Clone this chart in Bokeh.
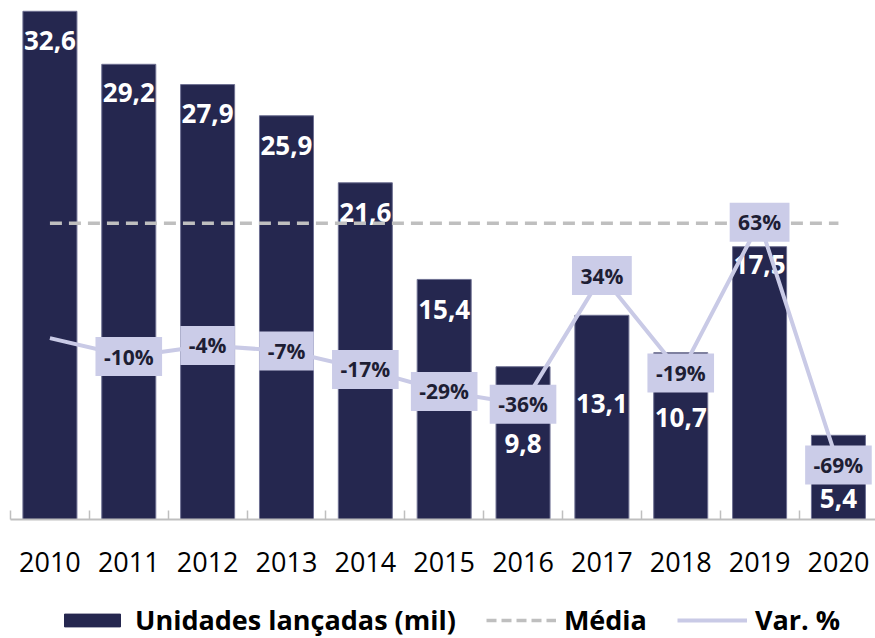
from bokeh.plotting import figure
from bokeh.models import (ColumnDataSource, Range1d, FixedTicker, Legend, LegendItem)
from bokeh.layouts import column
from bokeh.embed import file_html
from bokeh.resources import INLINE
from bokeh.core.properties import value
import numpy as np

# ---- data ----
years = ["2010", "2011", "2012", "2013", "2014", "2015", "2016", "2017", "2018", "2019", "2020"]
unidades = [32.6, 29.2, 27.9, 25.9, 21.6, 15.4, 9.8, 13.1, 10.7, 17.5, 5.4]
unidades_labels = ["32,6", "29,2", "27,9", "25,9", "21,6", "15,4", "9,8", "13,1", "10,7", "17,5", "5,4"]
var_pct = [0, -10, -4, -7, -17, -29, -36, 34, -19, 63, -69]
var_labels = ["", "-10%", "-4%", "-7%", "-17%", "-29%", "-36%", "34%", "-19%", "63%", "-69%"]

# ---- styling / placement ----
NAVY = "#25274F"
LAV = "#C9CAE6"
BOX = "#CBCCE8"
GRAY = "#BFBFBF"
FONT = "Open Sans"
label_offsets = [29, 28, 29, 30, 30, 30, 77, 88, 65, 18, 63]  # px below bar top
CHAR_W = {"-": 6.8, "%": 17.8}
def box_width(s):
    return 18 + sum(CHAR_W.get(c, 12.0) for c in s)

xs = list(range(len(years)))
media = float(np.mean(unidades))

p = figure(width=875, height=600, output_backend="svg", toolbar_location=None,
           x_range=Range1d(-0.5, 10.47), y_range=Range1d(0, 32.78),
           min_border_left=10, min_border_right=0, min_border_top=8, min_border_bottom=81,
           outline_line_color=None)
p.extra_y_ranges = {"var": Range1d(-98.6, 179.2)}
p.yaxis.visible = False
p.grid.visible = False

bar_src = ColumnDataSource(dict(x=xs, top=unidades, lab=unidades_labels, off=label_offsets))
bars = p.vbar(x="x", top="top", width=0.685, source=bar_src, fill_color=NAVY,
              line_color="#6E7092", line_width=1)
p.text(x="x", y="top", text="lab", y_offset="off", source=bar_src,
       text_font=value(FONT), text_font_style="bold", text_font_size="26px",
       text_color="white", text_align="center", text_baseline="middle")

mean_line = p.line(x=[xs[0], xs[-1]], y=[media, media], line_color=GRAY, line_width=3.5,
                   line_dash="12 7")

var_line = p.line(x=xs, y=var_pct, y_range_name="var", line_color=LAV, line_width=4)

lab_src = ColumnDataSource(dict(x=xs[1:], v=var_pct[1:], t=var_labels[1:],
                                w=[box_width(s) for s in var_labels[1:]]))
p.rect(x="x", y="v", width="w", height=39, width_units="screen", height_units="screen",
       source=lab_src, y_range_name="var", fill_color=BOX, line_color=None)
p.text(x="x", y="v", text="t", source=lab_src, y_range_name="var",
       text_font=value(FONT), text_font_style="bold", text_font_size="21px",
       text_color="#1E1E34", text_align="center", text_baseline="middle")

ax = p.xaxis[0]
ax.ticker = FixedTicker(ticks=xs, minor_ticks=[i - 0.5 for i in range(len(years) + 1)])
ax.major_label_overrides = {i: y for i, y in zip(xs, years)}
ax.major_tick_in = 0
ax.major_tick_out = 0
ax.minor_tick_in = 9
ax.minor_tick_out = 0
ax.minor_tick_line_color = GRAY
ax.minor_tick_line_width = 1.5
ax.axis_line_color = GRAY
ax.axis_line_width = 2
ax.major_label_standoff = 32
ax.major_label_text_font = FONT
ax.major_label_text_font_size = "27px"
ax.major_label_text_color = "black"

# ---- legend strip ----
lf = figure(width=875, height=38, output_backend="svg", toolbar_location=None,
            x_range=Range1d(0, 1), y_range=Range1d(0, 1),
            min_border_left=0, min_border_right=0, min_border_top=0, min_border_bottom=0,
            outline_line_color=None)
lf.xaxis.visible = False
lf.yaxis.visible = False
lf.grid.visible = False
# legend-only renderers, placed outside the visible range
lg_bar = lf.vbar(x=[5], top=[5], width=0.5, fill_color=NAVY, line_color=NAVY)
lg_mean = lf.line(x=[5, 6], y=[5, 5], line_color=GRAY, line_width=3.5, line_dash="10 5")
lg_var = lf.line(x=[5, 6], y=[5, 5], line_color=LAV, line_width=4)

legend = Legend(items=[
    LegendItem(label="Unidades lançadas (mil)", renderers=[lg_bar]),
    LegendItem(label="Média", renderers=[lg_mean]),
    LegendItem(label="Var. %", renderers=[lg_var]),
], orientation="horizontal", location=(47, 0))
legend.glyph_width = 70
legend.glyph_height = 16
legend.label_standoff = 8
legend.spacing = 30
legend.padding = 0
legend.margin = 0
legend.border_line_color = None
legend.background_fill_alpha = 0
legend.label_text_font = FONT
legend.label_text_font_style = "bold"
legend.label_text_font_size = "27px"
legend.label_text_color = "black"
lf.add_layout(legend)

layout = column(p, lf, spacing=0)
open("out.html", "w").write(file_html(layout, INLINE))
